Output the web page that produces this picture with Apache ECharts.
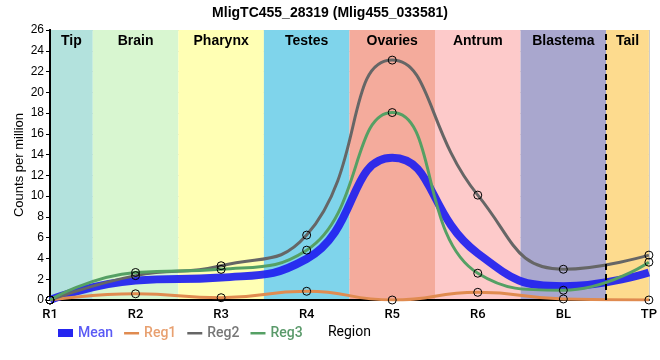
<!DOCTYPE html>
<html><head><meta charset="utf-8">
<script src="https://cdn.jsdelivr.net/npm/echarts@6/dist/echarts.min.js"></script>
<style>html,body{margin:0;padding:0;background:#fff}#c{width:660px;height:360px}</style>
</head><body><div id="c"></div>
<script>
var regions = ['R1','R2','R3','R4','R5','R6','BL','TP'];
var meanVals = [0, 1.87, 2.16, 3.96, 13.7, 4.49, 1.33, 2.65];
var reg1Vals = [0, 0.6, 0.22, 0.84, 0, 0.74, 0.1, 0];
var reg2Vals = [0, 2.35, 3.3, 6.25, 23.1, 10.1, 2.96, 4.32];
var reg3Vals = [0, 2.65, 2.95, 4.8, 18.05, 2.58, 0.94, 3.64];
var bandNames = ['Tip','Brain','Pharynx','Testes','Ovaries','Antrum','Blastema','Tail'];
var bandStarts = [0, 0.5, 1.5, 2.5, 3.5, 4.5, 5.5, 6.5];
var bandEnds = [0.5, 1.5, 2.5, 3.5, 4.5, 5.5, 6.5, 7];
var bandColors = ['#b3e2dd','#d8f6d0','#ffffb4','#7fd4eb','#f4ab9c','#fdcaca','#a9a7ce','#fddb8e'];
var yTicks = {min: 0, max: 26, interval: 2};
var dashedAt = 6.5;

function pts(v){ return v.map(function(y,i){ return [i, y]; }); }

var chart = echarts.init(document.getElementById('c'));
var circle = {color:'rgba(0,0,0,0)', borderColor:'#000', borderWidth:1};
function regSeries(name, vals, color){
  return {name:name, type:'line', data:pts(vals), smooth:0.5, z:3,
    symbol:'circle', symbolSize:8, showSymbol:true,
    lineStyle:{color:color, width:3}, itemStyle:circle,
    emphasis:{disabled:true}};
}
var thin = 'path://M0,0M0,3h15v2.5h-15zM15,8';
chart.setOption({
  animation:false,
  title:{text:'MligTC455_28319 (Mlig455_033581)', left:'center', top:1,
    textStyle:{fontFamily:'Liberation Sans', fontSize:14, fontWeight:'bold', color:'#000'}},
  grid:{left:50, right:10, top:30, bottom:60},
  legend:{left:53, top:321, itemWidth:15, itemHeight:8, itemGap:11,
    textStyle:{fontFamily:'Roboto', fontSize:14, fontWeight:500},
    data:[
      {name:'Mean', icon:'rect', itemStyle:{color:'#2525f0', borderWidth:0}, textStyle:{color:'#5a5af5'}},
      {name:'Reg1', icon:thin, itemStyle:{color:'#e08b50', borderWidth:0}, textStyle:{color:'#e8a070'}},
      {name:'Reg2', icon:thin, itemStyle:{color:'#666666', borderWidth:0}, textStyle:{color:'#777777'}},
      {name:'Reg3', icon:thin, itemStyle:{color:'#55a064', borderWidth:0}, textStyle:{color:'#5a9a6a'}}
    ]},
  xAxis:[{type:'value', min:0, max:regions.length-1, interval:1, z:1,
      name:'Region', nameLocation:'middle', nameGap:25,
      nameTextStyle:{fontFamily:'Roboto', fontSize:14, color:'#000'},
      axisLine:{onZero:false, lineStyle:{color:'#000', width:2}},
      axisTick:{show:false},
      axisLabel:{formatter:function(v){return regions[v] || '';}, fontFamily:'Roboto', fontSize:13, fontWeight:500, color:'#000', margin:8},
      splitLine:{show:true, lineStyle:{color:'#cccccc', width:1}}},
    {type:'value', position:'top', min:0, max:regions.length-1, z:1,
      axisLine:{lineStyle:{color:'#000', width:1.5}}, axisTick:{show:false}, axisLabel:{show:false}, splitLine:{show:false}}],
  yAxis:[{type:'value', min:yTicks.min, max:yTicks.max, interval:yTicks.interval, z:1,
      name:'Counts per million', nameLocation:'middle', nameGap:24, nameMoveOverlap:false,
      nameTextStyle:{fontFamily:'Liberation Sans', fontSize:13, color:'#000'},
      axisLine:{show:true, lineStyle:{color:'#000', width:2}},
      axisTick:{show:true, length:4, lineStyle:{color:'#000'}},
      axisLabel:{fontFamily:'Liberation Sans', fontSize:12, color:'#000', margin:6},
      splitLine:{show:true, lineStyle:{color:'#cccccc', width:1}}},
    {type:'value', position:'right', min:yTicks.min, max:yTicks.max, z:1,
      axisLine:{show:true, lineStyle:{color:'#000', width:2}}, axisTick:{show:false}, axisLabel:{show:false}, splitLine:{show:false}}],
  series:[
    {name:'bands', type:'line', data:[], z:0, silent:true,
      markArea:{silent:true, data: bandNames.map(function(n,i){
        return [{name:n, xAxis:bandStarts[i], yAxis:yTicks.max, itemStyle:{color:bandColors[i]}},
                {xAxis:bandEnds[i], yAxis:yTicks.min}];
      }), label:{show:true, position:'insideTop', distance:4, fontFamily:'Liberation Sans', fontSize:14, fontWeight:'bold', color:'#000'}},
      markLine:{silent:true, symbol:'none', label:{show:false},
        lineStyle:{color:'#000', type:[6,4], width:2},
        data:[{xAxis:dashedAt}]}},
    {name:'Mean', type:'line', data:pts(meanVals), smooth:0.5, z:2, symbol:'none',
      lineStyle:{color:'#2020f0', width:8, opacity:0.92}, itemStyle:{color:'#2020f0'}},
    regSeries('Reg1', reg1Vals, '#e08b50'),
    regSeries('Reg2', reg2Vals, '#666666'),
    regSeries('Reg3', reg3Vals, '#55a064')
  ]
});
</script></body></html>
